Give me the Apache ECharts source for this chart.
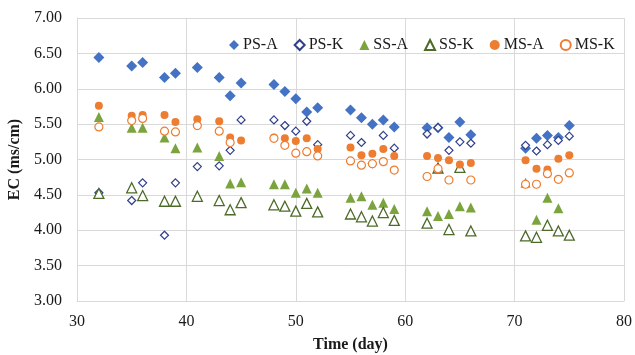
<!DOCTYPE html>
<html>
<head>
<meta charset="utf-8">
<script src="https://cdn.jsdelivr.net/npm/echarts@6/dist/echarts.min.js"></script>
<style>
  html, body { margin: 0; padding: 0; background: #fff; }
  #chart { width: 635px; height: 355px; }
</style>
</head>
<body>
<div id="chart"></div>
<script>
// sampling days (x)
const days = [32, 35, 36, 38, 39, 41, 43, 44, 45, 48, 49, 50, 51, 52, 55, 56, 57, 58, 59, 62, 63, 64, 65, 66, 71, 72, 73, 74, 75];

// EC values (ms/cm), null = no point
const psA = [6.44, 6.32, 6.37, 6.16, 6.22, 6.30, 6.16, 5.90, 6.08, 6.06, 5.96, 5.86, 5.67, 5.73, 5.70, 5.59, 5.50, 5.56, 5.46, 5.45, 5.45, 5.31, 5.53, 5.35, 5.16, 5.30, 5.34, 5.31, 5.48];
const psK = [4.53, 4.42, 4.67, 3.93, 4.67, 4.90, 4.91, 5.13, 5.56, 5.56, 5.48, 5.40, 5.54, 5.21, 5.34, 5.24, 4.94, 5.34, 5.16, 5.36, 5.45, 5.13, 5.25, 5.23, 5.20, 5.12, 5.21, 5.27, 5.33];
const ssA = [5.60, 5.45, 5.45, 5.31, 5.16, 5.17, 5.05, 4.66, 4.68, 4.65, 4.65, 4.53, 4.59, 4.53, 4.46, 4.48, 4.36, 4.39, 4.30, 4.27, 4.20, 4.23, 4.34, 4.32, 4.67, 4.15, 4.46, 4.31, null];
const ssK = [4.52, 4.60, 4.49, 4.41, 4.41, 4.48, 4.42, 4.29, 4.39, 4.36, 4.34, 4.27, 4.38, 4.26, 4.23, 4.19, 4.13, 4.25, 4.14, 4.10, 4.88, 4.01, 4.89, 3.99, 3.92, 3.90, 4.07, 3.99, 3.93];
const msA = [5.76, 5.62, 5.63, 5.63, 5.53, 5.57, 5.54, 5.31, 5.27, 5.31, 5.30, 5.26, 5.30, 5.15, 5.17, 5.06, 5.08, 5.15, 5.05, 5.05, 5.02, 4.99, 4.93, 4.95, 4.99, 4.87, 4.86, 5.01, 5.06];
const msK = [5.46, 5.55, 5.58, 5.40, 5.39, 5.48, 5.40, 5.24, null, 5.30, 5.20, 5.09, 5.11, 5.05, 4.98, 4.92, 4.94, 4.97, 4.85, 4.76, 4.87, 4.71, null, 4.71, 4.65, 4.65, 4.80, 4.72, 4.81];

const FONT = "'Liberation Serif', 'Times New Roman', serif";
const GRID_LINE = "#d9d9d9";

function pairs(values) {
  const out = [];
  values.forEach((v, i) => {
    if (v !== null) out.push([days[i], v]);
  });
  return out;
}

const seriesDefs = [
  { name: "PS-A", values: psA, symbol: "diamond", size: 11, fill: "#4472c4", stroke: "#4472c4", width: 0 },
  { name: "PS-K", values: psK, symbol: "diamond", size: 8, fill: "#ffffff", stroke: "#2f3f8c", width: 1.2 },
  { name: "SS-A", values: ssA, symbol: "triangle", size: 10, fill: "#7ba43f", stroke: "#7ba43f", width: 0 },
  { name: "SS-K", values: ssK, symbol: "triangle", size: 10, fill: "#ffffff", stroke: "#4c6a28", width: 1.3 },
  { name: "MS-A", values: msA, symbol: "circle", size: 8, fill: "#ed7d31", stroke: "#ed7d31", width: 0 },
  { name: "MS-K", values: msK, symbol: "circle", size: 8, fill: "#ffffff", stroke: "#ed7d31", width: 1.2 }
];

const chart = echarts.init(document.getElementById("chart"), null, { renderer: "canvas" });

chart.setOption({
  animation: false,
  backgroundColor: "#fff",
  textStyle: { fontFamily: FONT },
  grid: { left: 77, right: 11, top: 18, bottom: 54, outerBoundsMode: "none" },
  legend: {
    left: 229,
    top: 37,
    padding: 0,
    itemWidth: 10,
    itemHeight: 10,
    itemGap: 16,
    textStyle: { fontFamily: FONT, fontSize: 16, color: "#1a1a1a", padding: [0, 0, 0, -1] },
    data: seriesDefs.map((d) => d.name)
  },
  xAxis: {
    type: "value",
    min: 30,
    max: 80,
    interval: 10,
    name: "Time (day)",
    nameLocation: "middle",
    nameGap: 36,
    nameTextStyle: { fontFamily: FONT, fontSize: 16, fontWeight: "bold", color: "#1a1a1a" },
    axisLine: { show: true, lineStyle: { color: GRID_LINE, width: 1 } },
    axisTick: { show: false },
    axisLabel: { fontFamily: FONT, fontSize: 16, color: "#1a1a1a", margin: 13 },
    splitLine: { show: true, lineStyle: { color: GRID_LINE, width: 1 } }
  },
  yAxis: {
    type: "value",
    min: 3,
    max: 7,
    interval: 0.5,
    name: "EC (ms/cm)",
    nameLocation: "middle",
    nameRotate: 90,
    nameGap: 47,
    nameTextStyle: { fontFamily: FONT, fontSize: 16, fontWeight: "bold", color: "#1a1a1a" },
    axisLine: { show: true, lineStyle: { color: GRID_LINE, width: 1 } },
    axisTick: { show: false },
    axisLabel: {
      fontFamily: FONT,
      fontSize: 16,
      color: "#1a1a1a",
      margin: 15,
      formatter: (v) => v.toFixed(2)
    },
    splitLine: { show: true, lineStyle: { color: GRID_LINE, width: 1 } }
  },
  series: seriesDefs.map((d) => ({
    name: d.name,
    type: "scatter",
    symbol: d.symbol,
    symbolSize: d.size,
    itemStyle: { color: d.fill, borderColor: d.stroke, borderWidth: d.width, opacity: 1 },
    emphasis: { disabled: true },
    data: pairs(d.values)
  }))
});
</script>
</body>
</html>
